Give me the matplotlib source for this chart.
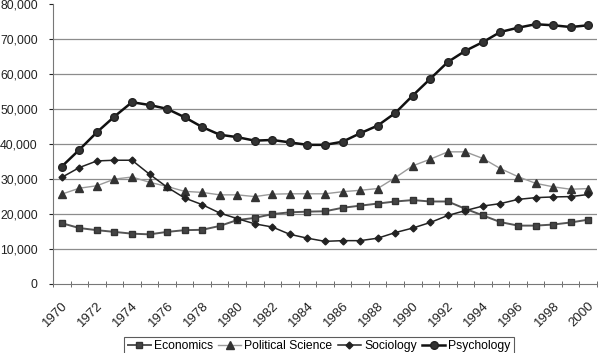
import matplotlib
matplotlib.use("Agg")
import matplotlib.pyplot as plt
from matplotlib.ticker import FuncFormatter, MultipleLocator

plt.rcParams['font.family'] = ['Liberation Sans', 'DejaVu Sans']

years = list(range(1970, 2001))
economics = [17400, 16000, 15400, 14900, 14400, 14200, 14900, 15400,
             15500, 16600, 18300, 18900, 20000, 20500, 20700, 20800,
             21800, 22400, 23000, 23600, 24000, 23600, 23600, 21500,
             19600, 17700, 16700, 16700, 17000, 17600, 18400]
polisci = [25700, 27400, 28100, 30000, 30600, 29100, 27900, 26500,
           26200, 25500, 25500, 25000, 25700, 25800, 25800, 25800,
           26400, 26800, 27300, 30400, 33800, 35700, 37800, 37800,
           35900, 33000, 30700, 28800, 27800, 27100, 27300]
sociology = [30500, 33300, 35200, 35400, 35400, 31400, 27700, 24600,
             22700, 20300, 18700, 17200, 16300, 14200, 13100, 12200,
             12400, 12400, 13100, 14700, 16000, 17600, 19600, 21000,
             22300, 23000, 24200, 24700, 24900, 25000, 25600]
psychology = [33600, 38400, 43400, 47900, 52000, 51200, 50100, 47700,
              44900, 42700, 42000, 41000, 41200, 40500, 39800, 39800,
              40700, 43100, 45300, 48900, 53900, 58700, 63500, 66700,
              69200, 72100, 73300, 74300, 74000, 73500, 74000]
tick_labels = [str(y) for y in years[::2]]

fig = plt.figure(figsize=(6.0, 3.53), dpi=100)
ax = fig.add_axes([53/600, 1-284/353, 544/600, 279.7/353])

x = list(range(len(years)))
ax.plot(x, economics, color='#555555', lw=1.4, marker='s', ms=5,
        mfc='#444444', mec='#333333', label='Economics', zorder=3)
ax.plot(x, polisci, color='#9a9a9a', lw=1.0, marker='^', ms=5.5,
        mfc='#333333', mec='#333333', label='Political Science', zorder=3)
ax.plot(x, sociology, color='#222222', lw=1.1, marker='D', ms=3.5,
        mfc='#222222', mec='#222222', label='Sociology', zorder=4)
ax.plot(x, psychology, color='#111111', lw=1.8, marker='o', ms=5.5,
        mfc='#333333', mec='#222222', label='Psychology', zorder=5)

ax.set_xlim(-0.5, len(years) - 0.5)
ax.set_ylim(0, 80000)
ax.yaxis.set_major_locator(MultipleLocator(10000))
ax.yaxis.set_major_formatter(FuncFormatter(lambda v, p: f"{int(v):,}"))
for v in range(10000, 80000, 10000):
    ax.axhline(v, color='#8c8c8c', lw=0.9, zorder=1)

ax.set_xticks(x[::2])
ax.set_xticklabels(tick_labels, rotation=45, ha='right', va='top',
                   rotation_mode='anchor')
ax.set_xticks([i - 0.5 for i in range(len(years) + 1)], minor=True)
ax.tick_params(axis='x', which='major', length=0, pad=11, labelsize=9.5,
               colors='#222222')
ax.tick_params(axis='x', which='minor', length=4, direction='inout',
               color='#555555')
ax.tick_params(axis='y', which='major', length=3, direction='out',
               labelsize=8.8, colors='#222222', pad=8)

for s in ['top', 'right']:
    ax.spines[s].set_visible(False)
ax.spines['left'].set_color('#777777')
ax.spines['bottom'].set_color('#777777')

leg = fig.legend(loc='lower center', bbox_to_anchor=(0.532, -0.025),
                 ncol=4, frameon=True, fancybox=False, edgecolor='#333333',
                 fontsize=8.7, handlelength=1.9, handletextpad=0.25,
                 columnspacing=0.45, borderpad=0.3)
leg.get_frame().set_linewidth(0.8)

fig.savefig('out.png', dpi=100, facecolor='white')
